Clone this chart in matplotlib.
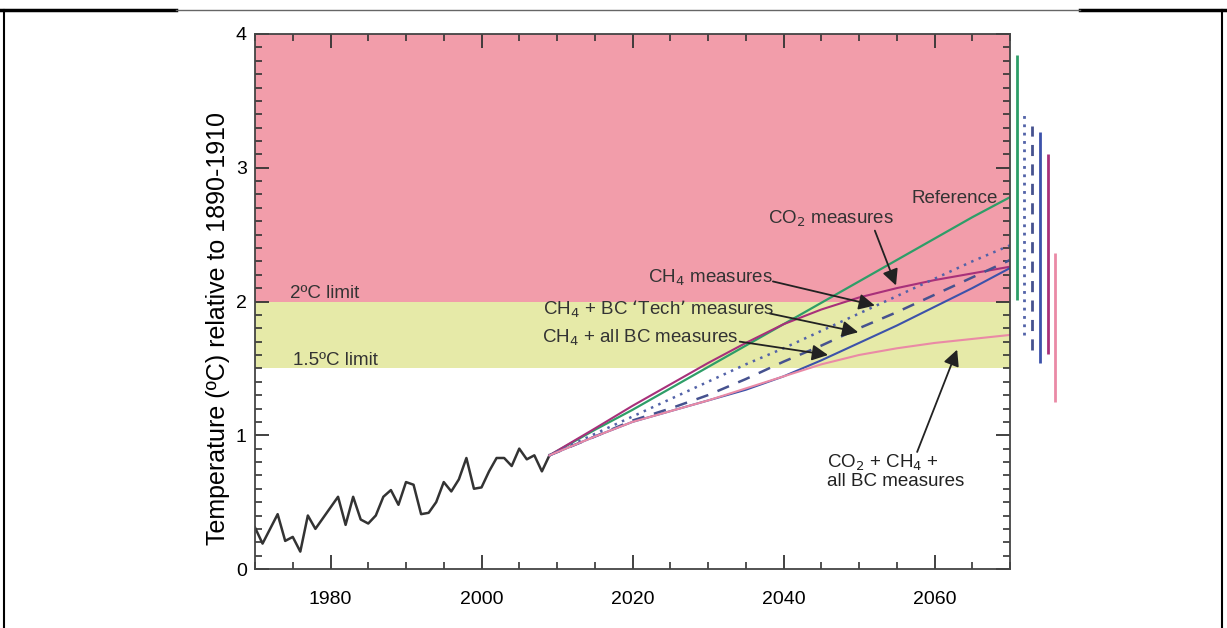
import matplotlib
matplotlib.use('Agg')
import matplotlib.pyplot as plt
from matplotlib.lines import Line2D
from matplotlib.ticker import MultipleLocator

plt.rcParams['font.family'] = ['Liberation Sans', 'DejaVu Sans']

# ---- Data ----
obs_years = [1970, 1971, 1972, 1973, 1974, 1975, 1976, 1977, 1978, 1979,
             1980, 1981, 1982, 1983, 1984, 1985, 1986, 1987, 1988, 1989,
             1990, 1991, 1992, 1993, 1994, 1995, 1996, 1997, 1998, 1999,
             2000, 2001, 2002, 2003, 2004, 2005, 2006, 2007, 2008, 2009]
obs_temp = [0.31, 0.19, 0.30, 0.41, 0.21, 0.24, 0.13, 0.40, 0.30, 0.38,
            0.46, 0.54, 0.33, 0.54, 0.37, 0.34, 0.40, 0.54, 0.59, 0.48,
            0.65, 0.63, 0.41, 0.42, 0.50, 0.65, 0.58, 0.67, 0.83, 0.60,
            0.61, 0.73, 0.83, 0.83, 0.77, 0.90, 0.82, 0.85, 0.73, 0.85]

proj_years = [2009, 2015, 2020, 2025, 2030, 2035, 2040, 2045, 2050, 2055, 2060, 2065, 2070]
reference = [0.85, 1.04, 1.19, 1.35, 1.51, 1.67, 1.83, 1.99, 2.15, 2.31, 2.47, 2.63, 2.78]
co2_meas = [0.85, 1.05, 1.22, 1.38, 1.54, 1.69, 1.83, 1.94, 2.03, 2.10, 2.16, 2.21, 2.26]
ch4_meas = [0.85, 1.01, 1.14, 1.27, 1.40, 1.53, 1.65, 1.78, 1.91, 2.04, 2.17, 2.30, 2.42]
ch4_bc_tech = [0.85, 0.99, 1.11, 1.20, 1.30, 1.42, 1.55, 1.67, 1.80, 1.92, 2.05, 2.18, 2.31]
ch4_all_bc = [0.85, 0.99, 1.10, 1.18, 1.26, 1.34, 1.44, 1.56, 1.69, 1.82, 1.96, 2.10, 2.25]
all_meas = [0.85, 0.99, 1.10, 1.18, 1.26, 1.35, 1.44, 1.53, 1.60, 1.65, 1.69, 1.72, 1.75]

# 2070 ranges shown as bars to the right of the plot
range_low = [2.01, 1.75, 1.64, 1.54, 1.61, 1.25]
range_high = [3.84, 3.41, 3.31, 3.27, 3.10, 2.36]

# ---- Plotting ----
fig = plt.figure(figsize=(12.27, 6.28), dpi=100)
ax = fig.add_axes([255/1227, 1 - 569/628, 755/1227, 535/628])

ax.axhspan(2, 4, color='#f29daa', lw=0, zorder=0)
ax.axhspan(1.5, 2, color='#e6eaa8', lw=0, zorder=0)

ax.plot(obs_years, obs_temp, color='#333333', lw=1.8)

green = '#2e9e68'
dotc = '#5262a8'
dashc = '#46528f'
bluec = '#3c52aa'
redc = '#a8307a'
pinkc = '#ea8aa6'

ax.plot(proj_years, reference, color=green, lw=1.6)
ax.plot(proj_years, co2_meas, color=redc, lw=1.5)
ax.plot(proj_years, ch4_meas, color=dotc, lw=1.8, linestyle=(0, (1, 2.2)))
ax.plot(proj_years, ch4_bc_tech, color=dashc, lw=1.8, linestyle=(0, (5, 4)))
ax.plot(proj_years, ch4_all_bc, color=bluec, lw=1.5)
ax.plot(proj_years, all_meas, color=pinkc, lw=1.5)

# range bars
bar_styles = [(green, '-'), (dotc, (0, (1, 2))), (dashc, (0, (4, 3))),
              (bluec, '-'), (redc, '-'), (pinkc, '-')]
for i, (lo, hi) in enumerate(zip(range_low, range_high)):
    c, ls = bar_styles[i]
    ax.plot([2070.9 + i * 1.02] * 2, [lo, hi], color=c, ls=ls, lw=2,
            clip_on=False, solid_capstyle='butt')

txt = '#333333'
fs = 13.5
ax.text(1974.6, 2.06, '2ºC limit', fontsize=fs, color=txt, va='center')
ax.text(1975.0, 1.56, '1.5ºC limit', fontsize=fs, color=txt, va='center')
ax.text(2068.4, 2.77, 'Reference', fontsize=fs, color=txt, va='center', ha='right')

arrow = dict(arrowstyle='-|>', color='#222222', lw=1.3, mutation_scale=24,
             shrinkA=0, shrinkB=0)
ax.annotate('', xy=(2054.9, 2.12), xytext=(2052.1, 2.53), arrowprops=arrow)
ax.text(2046.3, 2.62, 'CO$_2$ measures', fontsize=fs, color=txt, ha='center', va='center')

ax.annotate('', xy=(2052.1, 1.97), xytext=(2038.6, 2.15), arrowprops=arrow)
ax.text(2030.3, 2.18, 'CH$_4$ measures', fontsize=fs, color=txt, ha='center', va='center')

ax.annotate('', xy=(2049.9, 1.77), xytext=(2038.2, 1.91), arrowprops=arrow)
ax.text(2023.4, 1.94, "CH$_4$ + BC \u2018Tech\u2019 measures", fontsize=fs, color=txt,
        ha='center', va='center')

ax.annotate('', xy=(2045.9, 1.60), xytext=(2034.2, 1.70), arrowprops=arrow)
ax.text(2021.0, 1.73, 'CH$_4$ + all BC measures', fontsize=fs, color=txt,
        ha='center', va='center')

ax.annotate('', xy=(2063.0, 1.64), xytext=(2057.7, 0.875), arrowprops=arrow)
ax.text(2045.8, 0.73, 'CO$_2$ + CH$_4$ +\nall BC measures', fontsize=fs, color='#222222',
        ha='left', va='center', linespacing=1.0)

ax.set_xlim(1970, 2070)
ax.set_ylim(0, 4)
ax.xaxis.set_major_locator(MultipleLocator(20))
ax.xaxis.set_minor_locator(MultipleLocator(5))
ax.yaxis.set_major_locator(MultipleLocator(1))
ax.yaxis.set_minor_locator(MultipleLocator(0.1))
ax.set_xticks([1980, 2000, 2020, 2040, 2060])
ax.tick_params(which='both', direction='in', top=True, right=True, labelsize=14,
               color='#333333')
ax.tick_params(which='major', length=10, width=1.3)
ax.tick_params(which='minor', length=5, width=1.2)
ax.tick_params(axis='x', pad=16)
ax.tick_params(axis='y', pad=6)
for s in ax.spines.values():
    s.set_color('#444444')
    s.set_linewidth(1.3)

ax.set_ylabel('Temperature (ºC) relative to 1890-1910', fontsize=18)
ax.yaxis.set_label_coords(-0.033, 0.45)

# outer frame
ytop = 1 - 10/628
fig.add_artist(Line2D([0, 176/1227], [ytop, ytop], color='black', lw=2.5))
fig.add_artist(Line2D([1080/1227, 1], [ytop, ytop], color='black', lw=2.5))
fig.add_artist(Line2D([176/1227, 1080/1227], [ytop, ytop], color='#666666', lw=1))
fig.add_artist(Line2D([4/1227, 4/1227], [0, ytop], color='black', lw=1.5))
fig.add_artist(Line2D([1222/1227, 1222/1227], [0, ytop], color='black', lw=1.5))

fig.savefig('out.png', dpi=100)
